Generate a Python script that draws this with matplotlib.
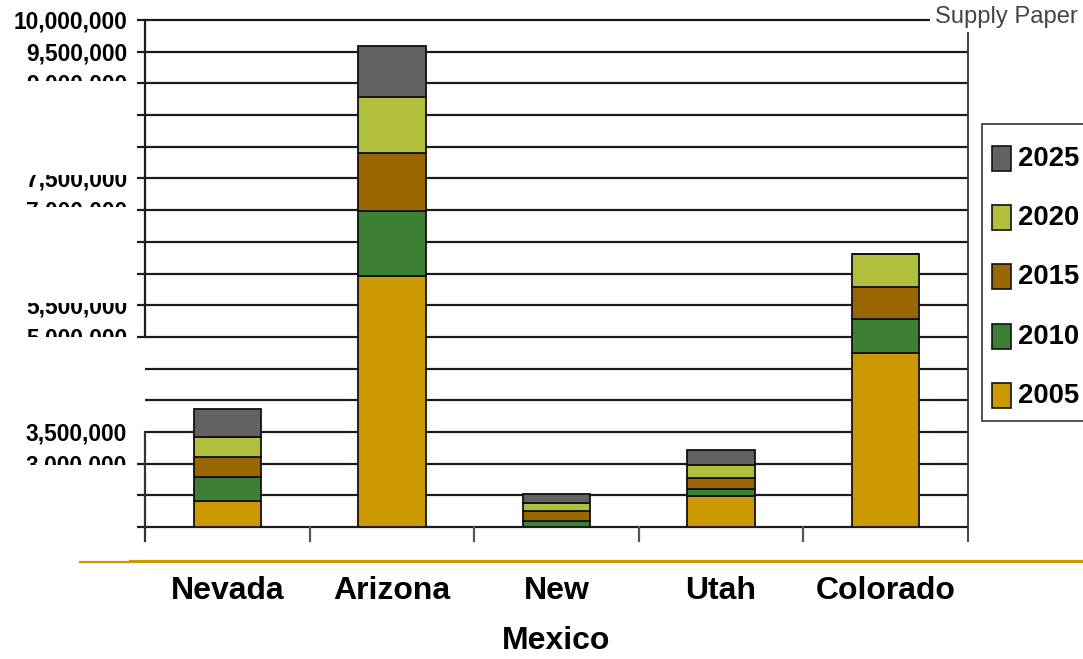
import numpy as np
import matplotlib
matplotlib.use("Agg")
import matplotlib.pyplot as plt
from matplotlib.lines import Line2D
from matplotlib.patches import Rectangle
from matplotlib.transforms import Bbox, TransformedBbox
from matplotlib import font_manager as fm

# ---------------- data ----------------
states = ["Nevada", "Arizona", "New\nMexico", "Utah", "Colorado"]
years = ["2005", "2010", "2015", "2020", "2025"]
pop_2005 = [513000, 4950000, 0, 611000, 3425000]
pop_2010 = [473000, 1282000, 124000, 132000, 671000]
pop_2015 = [394000, 1144000, 197000, 217000, 631000]
pop_2020 = [394000, 1105000, 158000, 270000, 651000]
pop_2025 = [552000, 1006000, 172000, 290000, 0]
series = [pop_2005, pop_2010, pop_2015, pop_2020, pop_2025]

grid_levels = [i * 625000 for i in range(17)]
# tick label texts shown at gridline index (as rendered in the reference)
ylabel_index = [16, 15, 14, 11, 10, 7, 6, 3, 2]
ylabel_text = ["10,000,000", "9,500,000", "9,000,000", "7,500,000", "7,000,000",
               "5,500,000", "5,000,000", "3,500,000", "3,000,000"]

colors = ["#CC9900", "#3B8033", "#996600", "#B1BF3C", "#626262"]

# ---------------- fonts ----------------
available = {f.name for f in fm.fontManager.ttflist}
narrow_font = "Liberation Sans"
for cand in ["Liberation Sans Narrow", "Arial Narrow", "Liberation Sans"]:
    if cand in available:
        narrow_font = cand
        break
narrow = [narrow_font, "DejaVu Sans"]
regular = ["Liberation Sans", "DejaVu Sans"]

# ---------------- figure ----------------
W, H = 1083, 659
fig = plt.figure(figsize=(W / 100, H / 100), dpi=100)
fig.patch.set_facecolor("white")
renderer = fig.canvas.get_renderer()


def fx(px):
    return px / W


def fy(py):
    return 1 - py / H


def fit_size(text, family, target_px, weight="bold", maxsize=None):
    t = fig.text(0, 0, text, fontsize=10, family=family, fontweight=weight)
    w = t.get_window_extent(renderer).width
    t.remove()
    s = 10 * target_px / w
    if maxsize is not None:
        s = min(s, maxsize)
    return s


ylab_size = fit_size("10,000,000", narrow, 114, maxsize=22)
xlab_size = fit_size("Colorado", narrow, 140, maxsize=29)
leg_size = fit_size("2020", narrow, 61, maxsize=30)
hdr_size = fit_size("Supply Paper", regular, 143, weight="normal", maxsize=18)

ax_left, ax_right, ax_top, ax_bot = 145, 968, 20, 527
ax = fig.add_axes([fx(ax_left), fy(ax_bot), fx(ax_right - ax_left), (ax_bot - ax_top) / H])
ax.set_xlim(-0.5, 4.5)
ax.set_ylim(0, 10000000)
for s in ax.spines.values():
    s.set_visible(False)

px_per_cat = (ax_right - ax_left) / 5.0
px_per_val = (ax_bot - ax_top) / 10000000.0

x = np.arange(len(states))
bottom = np.zeros(len(states))
bars = []
for vals, col, yr in zip(series, colors, years):
    b = ax.bar(x, vals, width=0.41, bottom=bottom, color=col, edgecolor="#111111",
               linewidth=1.3, label=yr, zorder=3)
    bars.append(b)
    bottom += np.array(vals)

gcol = "#1c1c1c"
glw = 1.6
tick_x = -0.5 - 8 / px_per_cat
for i, lv in enumerate(grid_levels):
    x0 = -0.5 if i in (3, 4, 5) else tick_x
    x1 = 4.5
    if i == 16:
        x1 = -0.5 + (930 - ax_left) / px_per_cat
    ax.plot([x0, x1], [lv, lv], color=gcol, lw=glw, clip_on=False, zorder=1,
            solid_capstyle="butt")

below = -14 / px_per_val
# left axis segments
ax.plot([-0.5, -0.5], [grid_levels[16], grid_levels[6]], color=gcol, lw=glw, clip_on=False)
ax.plot([-0.5, -0.5], [grid_levels[3], below], color="#333333", lw=glw, clip_on=False)
# right axis
ax.plot([4.5, 4.5], [(ax_bot - 33) / px_per_val, below], color="#333333", lw=1.3, clip_on=False)
# category boundary ticks
for xb in [0.5, 1.5, 2.5, 3.5]:
    ax.plot([xb, xb], [0, below], color="#555555", lw=1.6, clip_on=False)

ax.set_yticks([])
ax.set_xticks(x)
ax.set_xticklabels(states, fontsize=xlab_size, fontweight="bold", family=narrow,
                   linespacing=1.9)
ax.tick_params(axis="x", length=0, pad=35)

# y labels with clipping bands (as in the reference)
bands = {16: (0, 81), 15: (0, 81), 14: (0, 81), 11: (175, 207), 10: (175, 207),
         7: (303, 337), 6: (303, 337), 3: (423, 465), 2: (423, 465)}
for idx, txt in zip(ylabel_index, ylabel_text):
    ypx = ax_bot - grid_levels[idx] * px_per_val + 2
    t = fig.text(fx(127), fy(ypx), txt, ha="right", va="center", fontsize=ylab_size,
                 fontweight="bold", family=narrow, color="black")
    b0, b1 = bands[idx]
    t.set_clip_box(TransformedBbox(Bbox.from_extents(0, fy(b1), 1, fy(b0)), fig.transFigure))
    t.set_clip_on(True)

# legend (drawn as a framed key box, top entry = latest year)
frame = Rectangle((fx(982), fy(421)), fx(1095 - 982), (421 - 124) / H,
                  transform=fig.transFigure, facecolor="white", edgecolor="#333333",
                  linewidth=1.2, zorder=5)
fig.add_artist(frame)
leg_years = years[::-1]
leg_colors = colors[::-1]
for k, (yr, col) in enumerate(zip(leg_years, leg_colors)):
    top = 146 + k * 59.2
    fig.add_artist(Rectangle((fx(992), fy(top + 25)), fx(19), 25 / H,
                             transform=fig.transFigure, facecolor=col,
                             edgecolor="#111111", linewidth=1.2, zorder=6))
    fig.text(fx(1018), fy(top + 13), yr, ha="left", va="center", fontsize=leg_size,
             fontweight="bold", family=narrow, color="black", zorder=7)

# header text
fig.text(fx(935), fy(17), "Supply Paper", ha="left", va="center", fontsize=hdr_size,
         color="#444444", family=regular)

# gold rule
fig.add_artist(Line2D([fx(80), fx(131)], [fy(561.8), fy(561.8)], color="#CC9900", lw=1.6))
fig.add_artist(Line2D([fx(130), 1.0], [fy(560.5), fy(560.5)], color="#CC9900", lw=2.3))

fig.savefig("out.png", dpi=100, facecolor="white")
